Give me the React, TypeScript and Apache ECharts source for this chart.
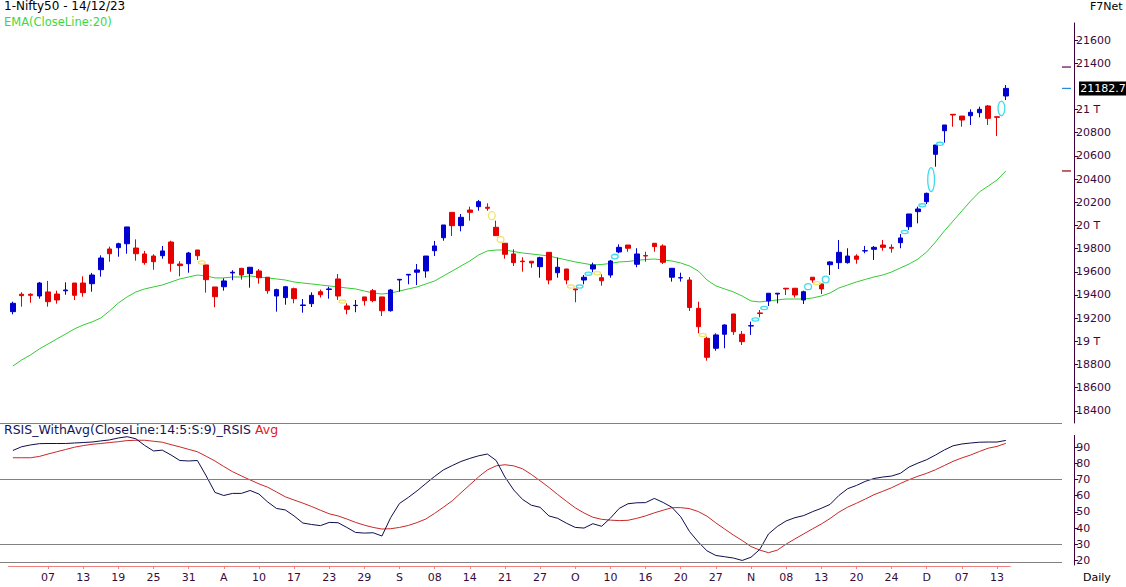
import React, { useEffect, useRef } from "react";
import * as echarts from "echarts";

// ---------- DATA ----------
const dates: string[] = [
  "03/07","04/07","05/07","06/07","07/07","10/07","11/07","12/07","13/07","14/07","17/07","18/07","19/07","20/07","21/07","24/07","25/07","26/07","27/07","28/07","31/07",
  "01/08","02/08","03/08","04/08","07/08","08/08","09/08","10/08","11/08","14/08","16/08","17/08","18/08","21/08","22/08","23/08","24/08","25/08","28/08","29/08","30/08","31/08",
  "01/09","04/09","05/09","06/09","07/09","08/09","11/09","12/09","13/09","14/09","15/09","18/09","20/09","21/09","22/09","25/09","26/09","27/09","28/09","29/09",
  "03/10","04/10","05/10","06/10","09/10","10/10","11/10","12/10","13/10","16/10","17/10","18/10","19/10","20/10","23/10","25/10","26/10","27/10","30/10","31/10",
  "01/11","02/11","03/11","06/11","07/11","08/11","09/11","10/11","12/11","13/11","15/11","16/11","17/11","20/11","21/11","22/11","23/11","24/11","28/11","29/11","30/11",
  "01/12","04/12","05/12","06/12","07/12","08/12","11/12","12/12","13/12","14/12",
];

// [open, high, low, close]
const candles: number[][] = [
  [19256,19342,19233,19328],[19406,19423,19299,19394],[19406,19414,19333,19397],[19391,19512,19368,19503],
  [19426,19521,19299,19342],[19408,19437,19325,19357],[19436,19509,19402,19443],[19503,19503,19357,19397],
  [19503,19561,19385,19420],[19497,19590,19428,19572],[19618,19742,19558,19719],[19797,19817,19687,19756],
  [19808,19851,19730,19842],[19842,19987,19756,19987],[19805,19880,19696,19756],[19754,19780,19661,19679],
  [19736,19751,19618,19687],[19739,19823,19713,19780],[19857,19868,19601,19673],[19667,19691,19561,19653],
  [19670,19771,19592,19762],[19788,19788,19702,19739],[19659,19659,19420,19532],[19469,19469,19294,19385],
  [19471,19544,19437,19521],[19590,19613,19527,19596],[19630,19630,19532,19572],[19584,19639,19463,19639],
  [19607,19624,19497,19549],[19553,19553,19411,19437],[19391,19454,19256,19446],[19377,19478,19316,19471],
  [19454,19463,19328,19368],[19309,19365,19247,19314],[19325,19423,19296,19397],[19428,19446,19377,19402],
  [19447,19471,19368,19452],[19538,19581,19357,19391],[19305,19328,19233,19276],[19308,19357,19251,19311],
  [19383,19383,19308,19351],[19437,19452,19337,19351],[19383,19383,19219,19264],[19264,19452,19256,19443],
  [19529,19535,19428,19535],[19572,19578,19492,19578],[19596,19667,19486,19616],[19607,19736,19549,19736],
  [19782,19866,19736,19823],[19894,20004,19868,20004],[20113,20113,19909,19998],[19998,20099,19949,20070],
  [20133,20162,20041,20113],[20162,20220,20127,20205],[20157,20191,20127,20148],[19984,20041,19912,19912],
  [19846,19846,19713,19751],[19754,19794,19650,19679],[19692,19725,19601,19687],[19691,19691,19635,19676],
  [19644,19730,19549,19722],[19768,19768,19492,19529],[19592,19722,19549,19639],[19624,19624,19492,19529],
  [19452,19452,19337,19444],[19529,19572,19492,19553],[19624,19679,19596,19659],[19549,19578,19480,19523],
  [19572,19702,19549,19693],[19771,19837,19760,19811],[19831,19831,19773,19803],[19665,19803,19639,19754],
  [19740,19773,19687,19736],[19846,19846,19773,19817],[19823,19837,19667,19682],[19553,19630,19515,19630],
  [19547,19592,19515,19549],[19529,19555,19262,19292],[19285,19342,19069,19126],[19026,19040,18833,18862],
  [18940,19069,18919,19055],[19061,19147,18940,19141],[19236,19236,19055,19083],[19061,19089,18968,18997],
  [19132,19170,19055,19135],[19245,19270,19207,19240],[19348,19415,19305,19415],[19408,19415,19328,19415],
  [19458,19458,19400,19452],[19458,19458,19377,19400],[19357,19437,19322,19428],[19553,19553,19506,19529],
  [19495,19495,19408,19452],[19661,19691,19572,19685],[19679,19874,19624,19768],[19679,19803,19670,19736],
  [19736,19751,19670,19708],[19780,19823,19760,19782],[19794,19823,19702,19811],[19831,19874,19782,19811],
  [19811,19837,19765,19803],[19851,19926,19803,19892],[19989,20099,19961,20099],[20119,20162,20018,20142],
  [20205,20283,20185,20277],[20614,20694,20507,20694],[20817,20867,20714,20867],[20959,20959,20852,20953],
  [20944,20944,20852,20910],[20947,21002,20867,20976],[20973,21025,20933,21002],[21031,21039,20867,20924],
  [20938,20938,20772,20933],[21117,21212,21082,21182.7],
];

const ema20: number[] = [
  18787,18839,18882,18934,18977,19020,19063,19107,19141,19167,19201,19262,19331,19383,19426,19452,19469,19486,19512,19538,
  19555,19572,19564,19547,19547,19555,19555,19564,19555,19547,19538,19529,19512,19503,19495,19486,19478,19469,19460,19452,
  19434,19417,19408,19417,19434,19452,19469,19495,19521,19564,19607,19650,19693,19745,19780,19788,19788,19775,19762,19754,
  19745,19736,19719,19702,19685,19672,19659,19663,19672,19685,19689,19698,19706,19710,19702,19693,19676,19650,19607,19529,
  19478,19452,19426,19391,19348,19340,19348,19357,19365,19365,19365,19374,19391,19417,19460,19486,19512,19534,19555,19572,
  19598,19633,19667,19710,19771,19857,19952,20038,20125,20211,20289,20340,20392,20470,
];

const rsi: number[] = [
  87.9,90.2,91.3,92.1,92.2,92.2,92.2,92.5,92.8,93.1,93.8,94.4,95.6,96.4,95.1,91.0,87.6,88.1,85.1,81.7,
  81.4,81.7,72.2,62.0,60.1,61.4,61.4,63.2,61.0,56.1,52.1,51.2,47.5,43.1,42.2,41.5,43.5,43.3,40.4,37.3,
  36.9,37.1,35.1,46.5,55.2,58.9,63.0,67.5,71.9,75.9,78.6,81.1,83.0,84.6,85.7,81.7,71.5,63.5,57.7,54.1,
  52.8,47.5,46.0,43.0,40.4,40.0,42.7,41.1,46.1,52.1,55.0,55.6,55.7,58.3,55.8,52.8,47.0,37.9,31.4,25.9,
  23.1,22.3,21.5,20.0,22.0,26.8,36.4,41.0,44.4,46.4,47.7,50.1,52.2,54.6,60.1,64.3,66.3,68.8,70.6,71.5,
  72.1,73.8,77.7,80.1,82.2,85.1,88.2,90.8,91.9,92.5,93.0,93.1,93.1,94.1,
];

const rsiAvg: number[] = [
  83.4,83.4,83.4,84.2,85.7,87.1,88.5,89.9,90.9,91.7,92.2,92.8,93.3,94.0,94.2,94.2,93.6,93.0,91.5,90.1,
  88.6,87.1,84.3,81.4,78.0,74.8,72.2,69.7,67.3,65.2,62.3,59.3,57.3,55.4,53.3,51.0,48.8,47.5,45.6,43.5,
  41.8,40.4,39.4,39.6,40.4,41.6,43.4,45.6,49.1,52.9,56.8,61.8,66.7,71.6,75.9,78.4,79.1,78.4,76.6,73.1,
  69.2,65.1,60.7,56.5,52.5,49.3,46.7,45.4,44.9,44.6,44.8,46.0,47.5,49.4,51.0,52.6,52.6,52.0,50.2,47.3,
  43.2,39.4,35.7,32.3,28.6,26.4,24.8,26.4,30.1,33.3,36.4,39.5,42.5,45.9,49.8,52.9,55.3,57.9,60.6,62.7,
  64.9,67.5,69.9,72.0,73.8,76.0,78.6,81.2,83.3,85.1,87.3,89.3,90.4,92.3,
];

// [left candle index, gap low, gap high, direction (1 up, -1 down)]
const gaps: number[][] = [
  [21,19659,19702,-1],[37,19328,19357,-1],[54,20041,20127,-1],[55,19846,19912,-1],[63,19452,19492,-1],
  [64,19452,19492,1],[65,19572,19596,1],[66,19578,19596,-1],[68,19702,19760,1],[78,19040,19069,-1],
  [84,19170,19207,1],[85,19270,19305,1],[90,19437,19506,1],[91,19495,19506,-1],[92,19495,19572,1],
  [101,19926,19961,1],[103,20162,20185,1],[104,20283,20507,1],[105,20694,20714,1],[112,20938,21082,1],
];

// 21200 is hidden behind the last-price box in the reference
const priceTicks: number[] = [18400,18600,18800,19000,19200,19400,19600,19800,20000,20200,20400,20600,20800,21000,21400,21600];
const rsiTicks: number[] = [20,30,40,50,60,70,80,90];
const rsiLevels: number[] = [70, 30];
const lastClose = 21182.7;
const upperMarker = 21367;
const monthLetters: Record<string, string> = { "07": "J", "08": "A", "09": "S", "10": "O", "11": "N", "12": "D" };

const FONT = "DejaVu Sans, Verdana, sans-serif";
const AXIS_TEXT = "#3a0a3a";

function xLabel(idx: number): string {
  const [d, m] = dates[idx].split("/");
  const prev = idx - 4;
  if (prev >= 0 && dates[prev].split("/")[1] !== m) return monthLetters[m];
  return d;
}
const showLabel = (idx: number) => idx > 0 && idx % 4 === 0;

export default function App() {
  const ref = useRef<HTMLDivElement>(null);
  useEffect(() => {
    const chart = echarts.init(ref.current!, null, { renderer: "svg" });
    const gridLeft = 8.5;
    const gridWidth = 1001.7;
    const option: any = {
      animation: false,
      backgroundColor: "#ffffff",
      textStyle: { fontFamily: FONT },
      grid: [
        { left: gridLeft, width: gridWidth, top: 23, height: 400 },
        { left: gridLeft, width: gridWidth, top: 435.4, height: 129.6 },
      ],
      xAxis: [
        {
          type: "category", gridIndex: 0, data: dates, boundaryGap: true,
          axisLine: { show: false }, axisTick: { show: false }, axisLabel: { show: false }, splitLine: { show: false },
        },
        {
          type: "category", gridIndex: 1, data: dates, boundaryGap: true, offset: 1,
          axisLine: { show: true, lineStyle: { color: "#f08080", width: 1 } },
          axisTick: { show: true, alignWithLabel: true, length: 3, interval: (i: number) => showLabel(i), lineStyle: { color: "#f08080" } },
          axisLabel: {
            show: true, interval: (i: number) => showLabel(i), formatter: (_v: string, i: number) => xLabel(i),
            color: AXIS_TEXT, fontSize: 11, fontFamily: FONT, margin: 6,
          },
          splitLine: { show: false },
        },
      ],
      yAxis: [
        {
          type: "value", gridIndex: 0, position: "right", offset: 63.8, min: 18295, max: 21747, scale: true,
          splitLine: { show: false },
          axisLine: { show: true, lineStyle: { color: "#400040", width: 1 } },
          axisTick: { show: true, length: 4, customValues: priceTicks, lineStyle: { color: "#400040" } },
          axisLabel: {
            show: true, customValues: priceTicks, margin: 2, color: AXIS_TEXT, fontSize: 11, fontFamily: FONT,
            formatter: (v: number) => (v % 1000 === 0 ? `${v / 1000} T` : String(v)),
          },
        },
        {
          type: "value", gridIndex: 1, position: "right", offset: 64, min: 17.2, max: 97.2,
          splitLine: { show: false },
          axisLine: { show: true, lineStyle: { color: "#400040", width: 1 } },
          axisTick: { show: true, length: 4, customValues: rsiTicks, lineStyle: { color: "#400040" } },
          axisLabel: { show: true, customValues: rsiTicks, margin: 2, color: AXIS_TEXT, fontSize: 11, fontFamily: FONT },
        },
      ],
      series: [
        {
          name: "EMA", type: "line", xAxisIndex: 0, yAxisIndex: 0, data: ema20, symbol: "none",
          lineStyle: { color: "#33cc33", width: 1 }, silent: true, z: 2,
          markPoint: {
            silent: true,
            data: [
              { x: 1066.5, yAxis: ema20[ema20.length - 1], symbol: "rect", symbolSize: [9, 1.2], itemStyle: { color: "#900000" }, label: { show: false } },
            ],
          },
        },
        {
          name: "Nifty50", type: "candlestick", xAxisIndex: 0, yAxisIndex: 0,
          data: candles.map(([o, h, l, c]) => [o, c, l, h]),
          barWidth: 5,
          itemStyle: { color: "#0000d0", color0: "#e60000", borderColor: "#0000d0", borderColor0: "#e60000", borderWidth: 1 },
          z: 3,
          markPoint: {
            silent: true,
            data: [
              { x: 1066.5, yAxis: upperMarker, symbol: "rect", symbolSize: [9, 1.2], itemStyle: { color: "#600060" }, label: { show: false } },
              { x: 1066.5, yAxis: lastClose, symbol: "rect", symbolSize: [9, 1.2], itemStyle: { color: "#2a8ad8" }, label: { show: false } },
              {
                x: 1103, yAxis: lastClose, symbol: "rect", symbolSize: [48, 14], itemStyle: { color: "#000000" },
                label: { show: true, position: "inside", formatter: String(lastClose), color: "#ffffff", fontSize: 11, fontFamily: FONT },
              },
            ],
          },
        },
        {
          name: "Gaps", type: "custom", xAxisIndex: 0, yAxisIndex: 0, data: gaps, encode: { x: 0, y: [1, 2] }, z: 4, silent: true,
          renderItem: (_p: any, api: any) => {
            const i = api.value(0);
            const a = api.coord([i, api.value(1)]);
            const b = api.coord([i + 1, api.value(2)]);
            const cx = (a[0] + b[0]) / 2;
            const ry = Math.max((a[1] - b[1]) / 2 - 1, 1.6);
            const up = api.value(3) > 0;
            return {
              type: "ellipse",
              shape: { cx, cy: (a[1] + b[1]) / 2, rx: 3.4, ry },
              style: { fill: "none", stroke: up ? "#3fdcef" : "#f0e46a", lineWidth: 1.3 },
            };
          },
        },
        {
          name: "RSIS", type: "line", xAxisIndex: 1, yAxisIndex: 1, data: rsi, symbol: "none",
          lineStyle: { color: "#0e0e4e", width: 1 }, silent: true, z: 3,
          markLine: {
            silent: true, symbol: "none", label: { show: false },
            lineStyle: { color: "#808080", width: 1, type: "solid" },
            data: rsiLevels.map((v) => [{ x: 0, yAxis: v }, { x: 1062, yAxis: v }]),
          },
        },
        {
          name: "Avg", type: "line", xAxisIndex: 1, yAxisIndex: 1, data: rsiAvg, symbol: "none",
          lineStyle: { color: "#c82828", width: 1 }, silent: true, z: 2,
        },
      ],
      graphic: [
        { type: "line", silent: true, shape: { x1: 0, y1: 423.5, x2: 1062, y2: 423.5 }, style: { stroke: "#808080", lineWidth: 1 } },
        { type: "line", silent: true, shape: { x1: 0, y1: 562.5, x2: 1062, y2: 562.5 }, style: { stroke: "#808080", lineWidth: 1 } },
        { type: "text", left: 4, top: 0, style: { text: "1-Nifty50 - 14/12/23", fill: "#000000", font: `12px ${FONT}` } },
        { type: "text", left: 4, top: 16, style: { text: "EMA(CloseLine:20)", fill: "#3cd83c", font: `11.5px ${FONT}` } },
        { type: "text", left: 1090, top: 1, style: { text: "F7Net", fill: "#000000", font: `11px ${FONT}` } },
        {
          type: "text", left: 4, top: 423,
          style: {
            text: "{a|RSIS_WithAvg(CloseLine:14:5:S:9)_RSIS} {b|Avg}", font: `12.5px ${FONT}`,
            rich: { a: { fill: "#14145a", font: `12.5px ${FONT}` }, b: { fill: "#e02020", font: `12.5px ${FONT}` } },
          },
        },
        { type: "text", left: 1083, top: 572, style: { text: "Daily", fill: "#000000", font: `11px ${FONT}` } },
      ],
    };
    chart.setOption(option);
    return () => chart.dispose();
  }, []);
  return <div ref={ref} style={{ position: "fixed", left: 0, top: 0, width: 1126, height: 587, background: "#ffffff" }} />;
}
